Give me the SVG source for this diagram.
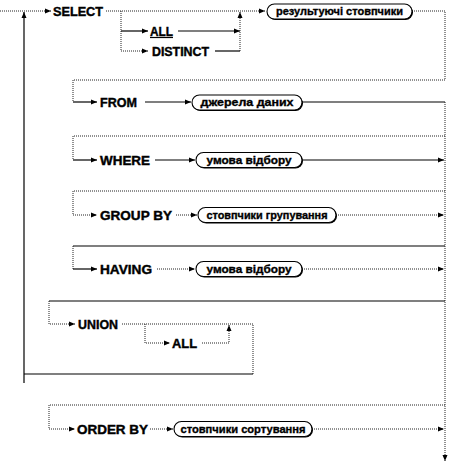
<svg xmlns="http://www.w3.org/2000/svg" width="450" height="466" viewBox="0 0 450 466">
<style>
.s{fill:none;stroke:#000;stroke-width:1.2}
.d{fill:none;stroke:#222;stroke-width:1;stroke-dasharray:1 1}
.k{font-family:"Liberation Sans",Arial,sans-serif;font-weight:bold;font-size:12.5px;fill:#000;stroke:#000;stroke-width:0.4}
.p{font-family:"Liberation Sans",Arial,sans-serif;font-weight:bold;font-size:11px;fill:#000;stroke:#000;stroke-width:0.35;text-anchor:middle}
.pill{fill:#fff;stroke:#000;stroke-width:1.1}
.sh{fill:#000;stroke:none}
</style>
<defs>
<marker id="a" markerWidth="6" markerHeight="6" refX="6" refY="3" orient="auto" markerUnits="userSpaceOnUse">
<path d="M0,0.5 L6,3 L0,5.5 z" fill="#000"/>
</marker>
</defs>
<g id="connectors">
<path class="d" d="M0,11 H51" marker-end="url(#a)"/>
<path class="d" d="M106,11 H265" marker-end="url(#a)"/>
<path class="d" d="M121,11 V51 H148" marker-end="url(#a)"/>
<path class="s" d="M121,31 H148" marker-end="url(#a)"/>
<path class="s" d="M178,31 H240" marker-end="url(#a)"/>
<path class="s" d="M215,51 H240"/>
<path class="d" d="M240,51 V12" marker-end="url(#a)"/>
<path class="d" d="M412,11 H445 V80 H73 V102"/>
<path class="s" d="M73,102 H97" marker-end="url(#a)"/>
<path class="s" d="M145,102 H191" marker-end="url(#a)"/>
<path class="s" d="M302,102 H445"/>
<path class="d" d="M445,102 V461" marker-end="url(#a)"/>
<path class="d" d="M445,136 H73 V160"/>
<path class="s" d="M73,160 H97" marker-end="url(#a)"/>
<path class="s" d="M155,160 H195" marker-end="url(#a)"/>
<path class="s" d="M302,160 H444" marker-end="url(#a)"/>
<path class="d" d="M445,191 H73 V215 H97" marker-end="url(#a)"/>
<path class="d" d="M176,215 H197" marker-end="url(#a)"/>
<path class="d" d="M336,215 H444" marker-end="url(#a)"/>
<path class="s" d="M445,246 H73"/>
<path class="d" d="M73,246 V269"/>
<path class="s" d="M73,269 H97" marker-end="url(#a)"/>
<path class="d" d="M157,269 H195" marker-end="url(#a)"/>
<path class="d" d="M302,269 H444" marker-end="url(#a)"/>
<path class="s" d="M445,301 H49"/>
<path class="d" d="M49,301 V324 H75" marker-end="url(#a)"/>
<path class="d" d="M122,324 H253 V374"/>
<path class="d" d="M145,324 V343 H170" marker-end="url(#a)"/>
<path class="d" d="M202,343 H229 V325" marker-end="url(#a)"/>
<path class="s" d="M253,374 H24"/>
<path class="s" d="M24,383 V12" marker-end="url(#a)"/>
<path class="d" d="M445,405 H49 V429 H75" marker-end="url(#a)"/>
<path class="d" d="M150,429 H173" marker-end="url(#a)"/>
<path class="d" d="M312,429 H444" marker-end="url(#a)"/>
</g>
<g id="select"><text class="k" x="53" y="15.5" textLength="50" lengthAdjust="spacingAndGlyphs">SELECT</text></g>
<g id="all1"><text class="k" x="150" y="35.5" textLength="23" lengthAdjust="spacingAndGlyphs">ALL</text><path class="s" d="M150,37.5 H173"/></g>
<g id="distinct"><text class="k" x="152" y="55.5" textLength="57" lengthAdjust="spacingAndGlyphs">DISTINCT</text></g>
<g id="cols"><rect class="sh" x="268" y="5" width="145" height="15" rx="7.5"/><rect class="pill" x="267" y="4" width="145" height="15" rx="7.5"/><text class="p" x="339.5" y="15" textLength="127" lengthAdjust="spacingAndGlyphs">результуючі стовпчики</text></g>
<g id="from"><text class="k" x="100" y="106.5" textLength="37" lengthAdjust="spacingAndGlyphs">FROM</text></g>
<g id="sources"><rect class="sh" x="193" y="96" width="110" height="15" rx="7.5"/><rect class="pill" x="192" y="95" width="110" height="15" rx="7.5"/><text class="p" x="247" y="106" textLength="93" lengthAdjust="spacingAndGlyphs">джерела даних</text></g>
<g id="where"><text class="k" x="100" y="164.5" textLength="50" lengthAdjust="spacingAndGlyphs">WHERE</text></g>
<g id="cond1"><rect class="sh" x="197" y="153.5" width="106" height="15" rx="7.5"/><rect class="pill" x="196" y="152.5" width="106" height="15" rx="7.5"/><text class="p" x="249" y="163.5" textLength="85" lengthAdjust="spacingAndGlyphs">умова відбору</text></g>
<g id="groupby"><text class="k" x="100" y="219.5" textLength="72" lengthAdjust="spacingAndGlyphs">GROUP BY</text></g>
<g id="groupcols"><rect class="sh" x="199" y="208.5" width="138" height="15" rx="7.5"/><rect class="pill" x="198" y="207.5" width="138" height="15" rx="7.5"/><text class="p" x="267" y="218.5" textLength="121" lengthAdjust="spacingAndGlyphs">стовпчики групування</text></g>
<g id="having"><text class="k" x="100" y="273.5" textLength="52" lengthAdjust="spacingAndGlyphs">HAVING</text></g>
<g id="cond2"><rect class="sh" x="197" y="262.5" width="106" height="15" rx="7.5"/><rect class="pill" x="196" y="261.5" width="106" height="15" rx="7.5"/><text class="p" x="249" y="272.5" textLength="85" lengthAdjust="spacingAndGlyphs">умова відбору</text></g>
<g id="union"><text class="k" x="78" y="328.5" textLength="40" lengthAdjust="spacingAndGlyphs">UNION</text></g>
<g id="all2"><text class="k" x="172" y="347.5" textLength="25" lengthAdjust="spacingAndGlyphs">ALL</text></g>
<g id="orderby"><text class="k" x="77" y="433.5" textLength="71" lengthAdjust="spacingAndGlyphs">ORDER BY</text></g>
<g id="sortcols"><rect class="sh" x="175" y="422.5" width="138" height="15" rx="7.5"/><rect class="pill" x="174" y="421.5" width="138" height="15" rx="7.5"/><text class="p" x="243" y="432.5" textLength="125" lengthAdjust="spacingAndGlyphs">стовпчики сортування</text></g>
</svg>
